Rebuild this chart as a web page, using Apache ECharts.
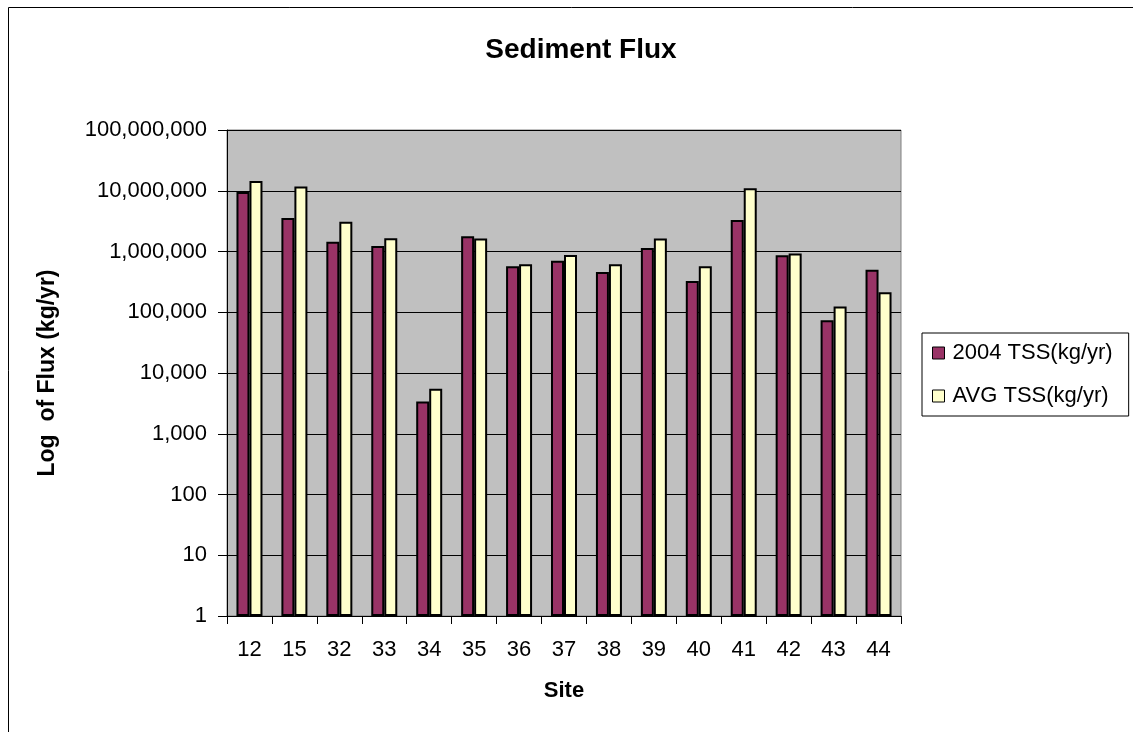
<!DOCTYPE html>
<html>
<head>
<meta charset="utf-8">
<script src="https://cdn.jsdelivr.net/npm/echarts@6/dist/echarts.min.js"></script>
<style>
  html, body { margin: 0; padding: 0; background: #fff; overflow: hidden; }
  #chart { width: 1133px; height: 732px; }
</style>
</head>
<body>
<div id="chart"></div>
<script>
// Sites along the x axis
const sites = ['12', '15', '32', '33', '34', '35', '36', '37', '38', '39', '40', '41', '42', '43', '44'];
// Total suspended sediment flux, kg/yr
const tss2004 = [9500000, 3550000, 1450000, 1230000, 3400, 1780000, 570000, 705000, 460000, 1140000, 327000, 3300000, 865000, 74000, 500000];
const tssAvg = [14500000, 11800000, 3100000, 1650000, 5500, 1630000, 615000, 875000, 615000, 1630000, 570000, 11000000, 930000, 124000, 213000];
const seriesNames = ['2004 TSS(kg/yr)', 'AVG TSS(kg/yr)'];

const font = 'Arial, "Liberation Sans", Helvetica, sans-serif';
const chart = echarts.init(document.getElementById('chart'));

chart.setOption({
  animation: false,
  backgroundColor: '#ffffff',
  textStyle: { fontFamily: font },
  graphic: [{
    // outer chart frame (runs off the right and bottom edges)
    type: 'rect',
    shape: { x: 8.5, y: 7.5, width: 1200, height: 800 },
    style: { fill: 'none', stroke: '#000', lineWidth: 1 },
    silent: true
  }],
  title: {
    text: 'Sediment Flux',
    left: 576, top: 31, textAlign: 'center',
    textStyle: { fontFamily: font, fontSize: 28, fontWeight: 'bold', color: '#000' }
  },
  legend: {
    orient: 'vertical',
    left: 922, top: 333,
    padding: [9, 16, 9, 10],
    itemGap: 21,
    itemWidth: 12, itemHeight: 12,
    borderColor: '#000', borderWidth: 1,
    icon: 'rect',
    itemStyle: { borderColor: '#000', borderWidth: 1 },
    textStyle: { fontFamily: font, fontSize: 22, color: '#000', padding: [0, 0, 0, 3] },
    data: seriesNames
  },
  grid: {
    left: 227, top: 130, width: 674, height: 486,
    show: true, backgroundColor: '#C0C0C0', borderColor: '#808080', borderWidth: 1
  },
  xAxis: {
    type: 'category',
    data: sites,
    name: 'Site',
    nameLocation: 'middle',
    nameGap: 64,
    nameTextStyle: { fontFamily: font, fontSize: 22, fontWeight: 'bold', color: '#000' },
    axisLine: { lineStyle: { color: '#000', width: 1 } },
    axisTick: { show: true, length: 8, lineStyle: { color: '#000' } },
    axisLabel: { fontFamily: font, fontSize: 22, color: '#000', margin: 23 },
    splitLine: { show: false }
  },
  yAxis: {
    type: 'log',
    logBase: 10,
    min: 1,
    max: 100000000,
    name: 'Log  of Flux (kg/yr)',
    nameLocation: 'middle',
    nameGap: 168,
    nameRotate: 90,
    nameTextStyle: { fontFamily: font, fontSize: 23, fontWeight: 'bold', color: '#000' },
    axisLine: { show: true, lineStyle: { color: '#000', width: 1 } },
    axisTick: { show: true, length: 9, inside: false, lineStyle: { color: '#000' } },
    axisLabel: {
      fontFamily: font, fontSize: 22, color: '#000', margin: 20,
      formatter: v => Math.round(v).toLocaleString('en-US')
    },
    splitLine: { show: true, lineStyle: { color: '#000', width: 1 } }
  },
  series: [
    {
      name: seriesNames[0],
      type: 'bar',
      data: tss2004,
      barWidth: 13,
      barGap: '0%',
      itemStyle: { color: '#993366', borderColor: '#000', borderWidth: 2 }
    },
    {
      name: seriesNames[1],
      type: 'bar',
      data: tssAvg,
      barWidth: 13,
      barGap: '0%',
      itemStyle: { color: '#FFFFCC', borderColor: '#000', borderWidth: 2 }
    }
  ]
});
</script>
</body>
</html>
